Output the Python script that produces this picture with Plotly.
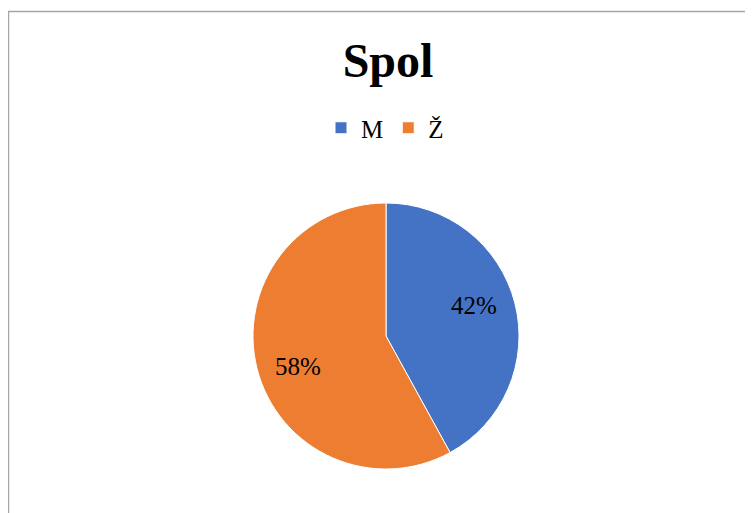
import math
import plotly.graph_objects as go

labels = ["M", "Ž"]
values = [42, 58]
colors = ["#4472C4", "#ED7D31"]
title_text = "Spol"

W, H = 753, 513
serif = "Liberation Serif, Times New Roman, serif"

# pie placement (figure pixels; page adds an 8px body margin)
cx, cy, R = 378, 328, 133
dom_x = [(cx - R) / W, (cx + R) / W]
dom_y = [1 - (cy + R) / H, 1 - (cy - R) / H]

fig = go.Figure(go.Pie(
    labels=labels,
    values=values,
    sort=False,
    direction="clockwise",
    rotation=0,
    marker=dict(colors=colors, line=dict(color="white", width=1)),
    textinfo="none",
    domain=dict(x=dom_x, y=dom_y),
    hoverinfo="label+percent",
))

# percentage labels placed near the slice mid-angles, like Excel's best fit
total = sum(values)
annotations = []
cum = 0
for v in values:
    mid = (cum + v / 2) / total * 360 - 5
    cum += v
    rf = 0.7
    px = cx + rf * R * math.sin(math.radians(mid))
    py = cy - rf * R * math.cos(math.radians(mid))
    annotations.append(dict(
        x=px / W, y=1 - py / H, xref="paper", yref="paper",
        text=f"{round(v / total * 100)}%", showarrow=False,
        xanchor="center", yanchor="middle",
        font=dict(family=serif, size=25, color="black"),
    ))

fig.update_layout(
    width=W, height=H,
    margin=dict(l=0, r=0, t=0, b=0),
    paper_bgcolor="white",
    plot_bgcolor="white",
    title=dict(text="<b>" + title_text + "</b>", x=380 / W, xanchor="center",
               y=1 - 52 / H, yanchor="middle", yref="container",
               font=dict(family=serif, size=48, color="black")),
    legend=dict(orientation="h", x=377 / W, xanchor="center",
                y=1 - 120 / H, yanchor="middle",
                font=dict(family=serif, size=25, color="black"),
                itemclick=False, itemdoubleclick=False),
    annotations=annotations,
    shapes=[
        dict(type="line", xref="paper", yref="paper",
             x0=0, x1=1.1, y0=1 - 3.5 / H, y1=1 - 3.5 / H,
             line=dict(color="#A6A6A6", width=1.3)),
        dict(type="line", xref="paper", yref="paper",
             x0=0.6 / W, x1=0.6 / W, y0=-0.1, y1=1 - 3.5 / H,
             line=dict(color="#A6A6A6", width=1.3)),
    ],
)

fig.write_html("out.html")
